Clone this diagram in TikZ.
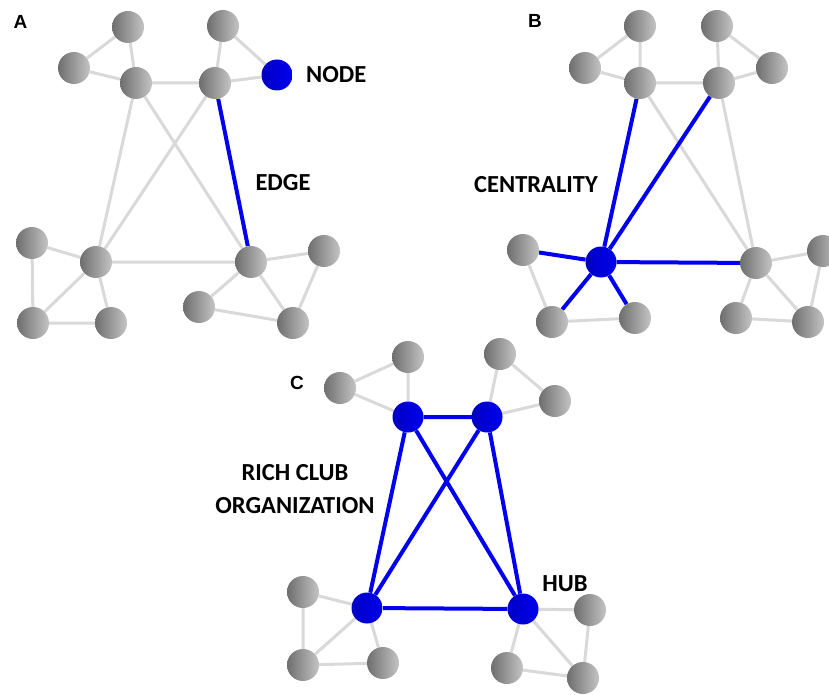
\documentclass[tikz,border=0pt]{standalone}
\usepackage{fontspec}
\setmainfont{Carlito}
\newfontfamily\panelfont{Liberation Sans}
\usetikzlibrary{backgrounds}
\definecolor{gdark}{HTML}{6E6E6E}
\definecolor{glight}{HTML}{C4C4C4}
\definecolor{bdark}{HTML}{0000C4}
\definecolor{blight}{HTML}{0000EE}
\definecolor{gedge}{HTML}{D9D9D9}
\definecolor{bedge}{HTML}{0000EE}
\tikzset{
  gn/.style={circle, inner sep=0pt, minimum size=32pt, left color=gdark, right color=glight, draw=none},
  bn/.style={circle, inner sep=0pt, minimum size=31pt, left color=bdark, right color=blight, draw=none},
  ge/.style={draw=gedge, line width=3pt},
  be/.style={draw=bedge, line width=4pt},
  lab/.style={font=\bfseries\fontsize{24.5}{33}\selectfont, text=black, inner sep=0pt},
  plab/.style={font=\panelfont\bfseries\fontsize{19}{21}\selectfont, text=black, inner sep=0pt},
}
\begin{document}
\begin{tikzpicture}[x=1pt,y=-1pt]
\useasboundingbox (0,0) rectangle (829,695);
\begin{scope}[on background layer]
\fill[white] (0,0) rectangle (829,695);
\end{scope}
% ---------- Panel A ----------
\node[plab] (LA) at (20.5,22) {A};
\node[gn] (a1) at (128,27) {};
\node[gn] (a2) at (223,26) {};
\node[gn] (atl) at (74,68) {};
\node[gn] (ah1) at (136,83) {};
\node[gn] (ah2) at (215,83) {};
\node[bn] (anode) at (277,75) {};
\node[lab, anchor=west] (tnode) at (306,75) {NODE};
\node[lab] (tedge) at (283,183) {EDGE};
\node[gn] (ab1) at (32,243) {};
\node[gn] (ah3) at (96,262) {};
\node[gn] (ab3) at (33,323) {};
\node[gn] (ab4) at (111,323) {};
\node[gn] (ah4) at (251,262) {};
\node[gn] (ar1) at (324,251) {};
\node[gn] (ar3) at (199,307) {};
\node[gn] (ar4) at (293,323) {};
\begin{scope}[on background layer]
\draw[ge] (a1)--(atl) (a1)--(ah1) (atl)--(ah1) (ah1)--(ah2) (a2)--(ah2) (a2)--(anode) (ah2)--(anode)
  (ah1)--(ah3) (ah1)--(ah4) (ah2)--(ah3) (ah3)--(ah4)
  (ab1)--(ah3) (ab1)--(ab3) (ab3)--(ah3) (ab3)--(ab4) (ah3)--(ab4)
  (ah4)--(ar1) (ah4)--(ar3) (ah4)--(ar4) (ar1)--(ar4) (ar3)--(ar4);
\draw[be] (ah2)--(ah4);
\end{scope}
% ---------- Panel B ----------
\node[plab] (LB) at (535,21) {B};
\node[gn] (b1) at (640,26) {};
\node[gn] (b2) at (717,26) {};
\node[gn] (btl) at (585,68) {};
\node[gn] (btr) at (772,68) {};
\node[gn] (bh1) at (640,83) {};
\node[gn] (bh2) at (719,83) {};
\node[lab] (tcent) at (536,185) {CENTRALITY};
\node[bn] (bhub) at (601,262) {};
\node[gn] (bb1) at (523,250) {};
\node[gn] (bb3) at (552,322) {};
\node[gn] (bb4) at (635,318) {};
\node[gn] (bh4) at (756,263) {};
\node[gn] (br1) at (823,251) {};
\node[gn] (br3) at (736,318) {};
\node[gn] (br4) at (808,322) {};
\begin{scope}[on background layer]
\draw[ge] (btl)--(b1) (btl)--(bh1) (b1)--(bh1) (bh1)--(bh2) (b2)--(bh2) (b2)--(btr) (bh2)--(btr)
  (bh1)--(bh4) (bh2)--(bh4) (bb1)--(bb3) (bb3)--(bb4)
  (bh4)--(br1) (bh4)--(br3) (bh4)--(br4) (br1)--(br4) (br3)--(br4);
\draw[be] (bhub)--(bh1) (bhub)--(bh2) (bhub)--(bh4) (bhub)--(bb1) (bhub)--(bb3) (bhub)--(bb4);
\end{scope}
% ---------- Panel C ----------
\node[plab] (LC) at (297,383) {C};
\node[gn] (ctl) at (340,388) {};
\node[gn] (c1) at (408,357) {};
\node[gn] (c2) at (500,354) {};
\node[gn] (ctr) at (555,401) {};
\node[bn] (ch1) at (408,417) {};
\node[bn] (ch2) at (487,417) {};
\node[bn] (ch3) at (367,608) {};
\node[bn] (ch4) at (523,609) {};
\node[lab] (thub) at (565,584) {HUB};
\node[lab, align=center] (trich) at (295,489) {RICH CLUB\\ORGANIZATION};
\node[gn] (cb1) at (303,592) {};
\node[gn] (cb3) at (303,665) {};
\node[gn] (cb4) at (383,663) {};
\node[gn] (cr1) at (590,610) {};
\node[gn] (cr3) at (507,668) {};
\node[gn] (cr4) at (583,678) {};
\begin{scope}[on background layer]
\draw[ge] (ctl)--(c1) (ctl)--(ch1) (c1)--(ch1) (c2)--(ch2) (c2)--(ctr) (ch2)--(ctr)
  (cb1)--(ch3) (cb1)--(cb3) (cb3)--(ch3) (cb3)--(cb4) (ch3)--(cb4)
  (ch4)--(cr1) (ch4)--(cr3) (ch4)--(cr4) (cr1)--(cr4) (cr3)--(cr4);
\draw[be] (ch1)--(ch2) (ch1)--(ch3) (ch1)--(ch4) (ch2)--(ch3) (ch2)--(ch4) (ch3)--(ch4);
\end{scope}
\end{tikzpicture}
\end{document}
